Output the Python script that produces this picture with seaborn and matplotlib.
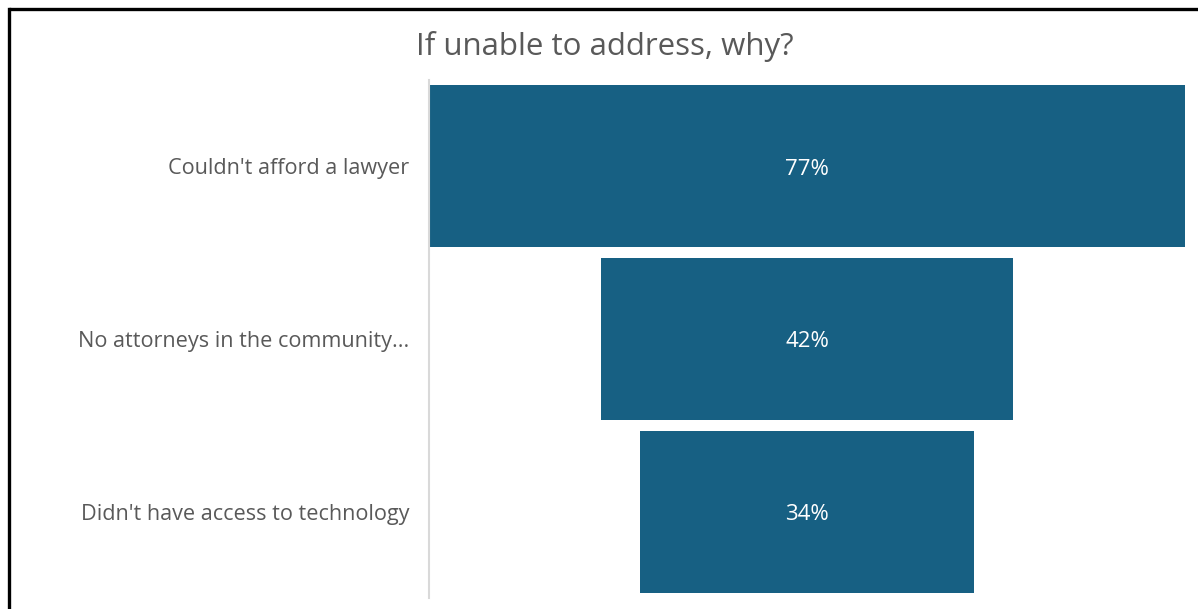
import matplotlib
matplotlib.use("Agg")
import matplotlib.pyplot as plt
from matplotlib.lines import Line2D
import seaborn as sns
import pandas as pd

categories = ["Couldn't afford a lawyer",
              "No attorneys in the community...",
              "Didn't have access to technology"]
values = [77, 42, 34]
title = "If unable to address, why?"

BAR_COLOR = "#176083"
TEXT_GRAY = "#595959"

sns.set_theme(style="white")
plt.rcParams["font.family"] = ["Open Sans", "DejaVu Sans"]

df = pd.DataFrame({"reason": categories, "share": values})

W, H = 1198, 609
fig = plt.figure(figsize=(W / 100, H / 100), dpi=100)
fig.patch.set_linewidth(0)
ax = fig.add_axes([429 / W, 11 / H, (1185 - 429) / W, (598 - 80) / H])

sns.barplot(data=df, x="share", y="reason", orient="h", color=BAR_COLOR,
            saturation=1, width=0.94, ax=ax)

# center each bar on the widest one to form a funnel
vmax = max(values)
for patch, v in zip(ax.patches, values):
    patch.set_x((vmax - v) / 2)
    patch.set_edgecolor("none")
    ax.annotate(f"{v}%", ((vmax - v) / 2 + v / 2, patch.get_y() + patch.get_height() / 2),
                xytext=(0, -2), textcoords="offset points",
                ha="center", va="center", color="white", fontsize=16)

ax.set_xlim(0, vmax)
ax.set_ylim(2.5, -0.5)
ax.set_xlabel("")
ax.set_ylabel("")
ax.set_xticks([])
ax.set_yticks(range(len(categories)))
ax.set_yticklabels(categories)
ax.tick_params(axis="y", length=0, pad=14, labelsize=15.6, labelcolor=TEXT_GRAY)
for side in ["top", "right", "bottom"]:
    ax.spines[side].set_visible(False)
ax.spines["left"].set_color("#D9D9D9")
ax.spines["left"].set_linewidth(1.5)

fig.text(605 / W, 1 - 47 / H, title, ha="center", va="center",
         fontsize=22.5, color=TEXT_GRAY)

# frame lines along the top and left edges
fig.add_artist(Line2D([8.5 / W, 1.0], [1 - 8.5 / H, 1 - 8.5 / H],
                      transform=fig.transFigure, color="black", linewidth=2.4,
                      solid_capstyle="butt"))
fig.add_artist(Line2D([8.5 / W, 8.5 / W], [0.0, 1 - 8.5 / H],
                      transform=fig.transFigure, color="black", linewidth=2.4,
                      solid_capstyle="projecting"))

fig.savefig("out.png", dpi=100, edgecolor="none")
